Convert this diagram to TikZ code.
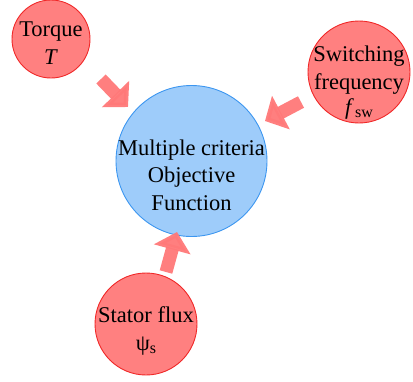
\documentclass[tikz,border=0pt]{standalone}
\usepackage{fontspec}
\setmainfont{Liberation Serif}
\usetikzlibrary{arrows.meta}
\definecolor{redfill}{RGB}{255,128,128}
\definecolor{redline}{RGB}{240,40,40}
\definecolor{bluefill}{RGB}{158,204,250}
\definecolor{blueline}{RGB}{60,150,240}
\definecolor{arrowcol}{RGB}{255,120,120}
\tikzset{
  redball/.style={circle, fill=redfill, draw=redline, line width=0.9pt, inner sep=0pt},
  blueball/.style={circle, fill=bluefill, draw=blueline, line width=0.9pt, inner sep=0pt},
  lbl/.style={align=center, font=\fontsize{22.5}{27.5}\selectfont, inner sep=0pt},
  blockarrow/.style={draw=arrowcol, opacity=0.95, line width=13pt, -{Triangle[width=37pt,length=18pt]}}
}
\begin{document}
\begin{tikzpicture}[x=1pt,y=-1pt]
\useasboundingbox (0,0) rectangle (413,381);
\node[blueball, minimum size=151pt] (obj) at (191.5,161) {};
\node[redball, minimum size=78pt] (torque) at (51,39) {};
\node[redball, minimum size=102pt] (sw) at (359,72) {};
\node[redball, minimum size=102pt] (flux) at (146,324) {};
\node[lbl] (objtext) at (191.5,175) {Multiple criteria\\Objective\\Function};
\node[lbl] (torquetext) at (51,43) {Torque\\\textit{T}};
\node[lbl] (swtext) at (359,83) {Switching\\frequency\\[-2pt]\textit{f}\kern1pt{\fontsize{16}{16}\selectfont\raisebox{-3pt}{sw}}};
\node[lbl] (fluxtext) at (146,331) {Stator flux\\ψ{\fontsize{16}{16}\selectfont\raisebox{-3pt}{s}}};
\coordinate (ta) at (101,79);
\coordinate (tb) at (128,107);
\coordinate (sa) at (301,102);
\coordinate (sb) at (265,121);
\coordinate (fa) at (166,272);
\coordinate (fb) at (177,232);
\draw[blockarrow] (ta) -- (tb);
\draw[blockarrow] (sa) -- (sb);
\draw[blockarrow] (fa) -- (fb);
\end{tikzpicture}
\end{document}
